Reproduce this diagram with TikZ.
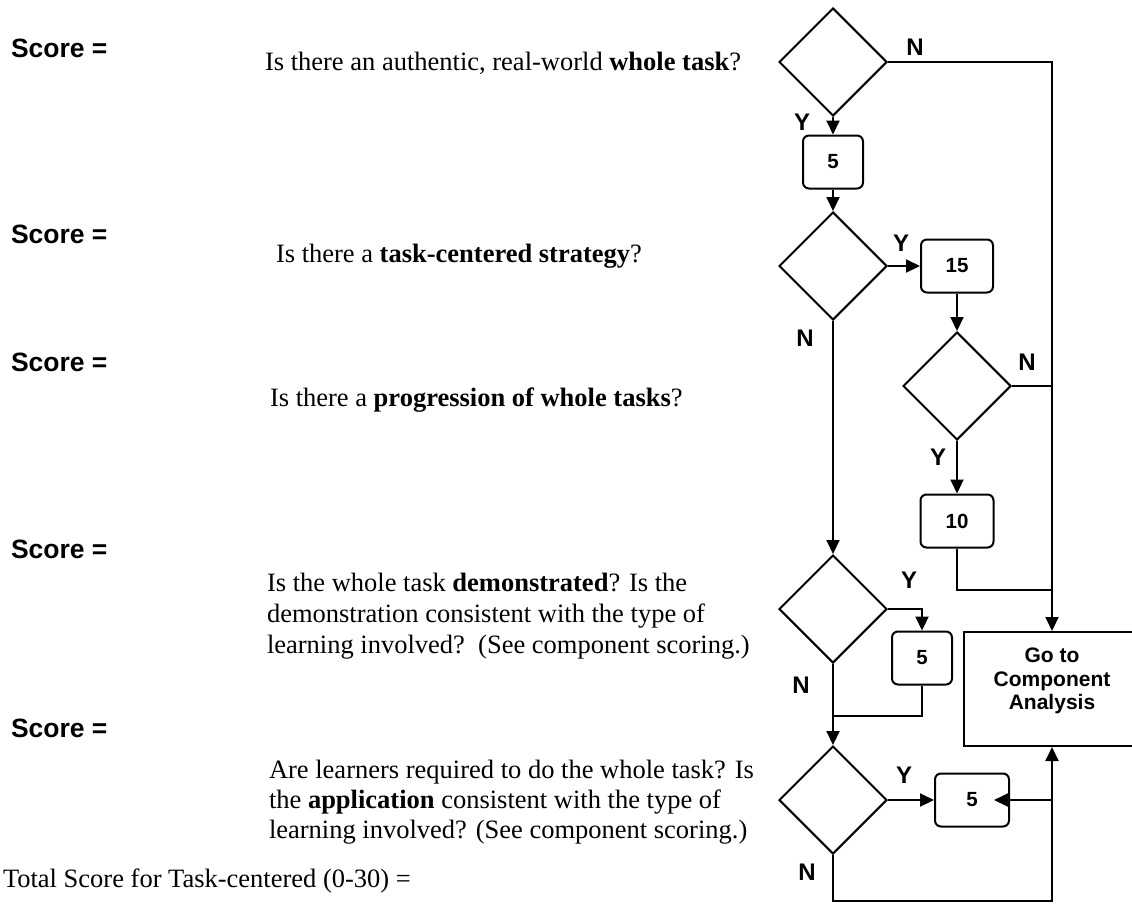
\documentclass[tikz,border=0pt]{standalone}
\usepackage{fontspec}
\setmainfont{Liberation Serif}
\newfontfamily\arialfont{Liberation Sans}
\usetikzlibrary{shapes.geometric,arrows.meta}
\begin{document}
\begin{tikzpicture}[x=1pt,y=-1pt,
  line width=2pt,
  decision/.style={draw,shape=diamond,minimum width=108pt,minimum height=108pt,inner sep=0pt},
  scorebox/.style={draw,rounded corners=6pt,minimum height=53pt,inner sep=0pt,
    font=\arialfont\bfseries\fontsize{20.5}{24}\selectfont},
  yn/.style={inner sep=0pt,font=\arialfont\bfseries\fontsize{24}{28}\selectfont},
  scorelbl/.style={anchor=base west,inner sep=0pt,font=\arialfont\bfseries\fontsize{26.5}{30}\selectfont},
  question/.style={anchor=base west,inner sep=0pt,font=\fontsize{26.5}{31}\selectfont},
  arr/.style={-{Triangle[length=14pt,width=13pt]}}
]
\useasboundingbox (0,0) rectangle (1132,903);

% score labels
\node[scorelbl] (s1) at (10,57)  {Score =};
\node[scorelbl] (s2) at (10,243) {Score =};
\node[scorelbl] (s3) at (10,371) {Score =};
\node[scorelbl] (s4) at (10,558) {Score =};
\node[scorelbl] (s5) at (10,737) {Score =};

% questions
\node[question] (q1) at (264,70)  {Is there an authentic, real-world \textbf{whole task}?};
\node[question] (q2) at (275,262) {Is there a \textbf{task-centered strategy}?};
\node[question] (q3) at (269,406) {Is there a \textbf{progression of whole tasks}?};
\node[question] (q4a) at (266,591) {Is the whole task \textbf{demonstrated}? Is the};
\node[question] (q4b) at (266,622) {demonstration consistent with the type of};
\node[question] (q4c) at (266,653) {learning involved?\ \ (See component scoring.)};
\node[question] (q5a) at (268,778) {Are learners required to do the whole task? Is};
\node[question] (q5b) at (268,808) {the \textbf{application} consistent with the type of};
\node[question] (q5c) at (268,838) {learning involved? (See component scoring.)};
\node[question] (tot) at (2,887) {Total Score for Task-centered (0-30) =};

% flowchart nodes
\node[decision] (d1) at (833,62) {};
\node[scorebox,minimum width=60pt] (b1) at (833,162) {5};
\node[decision] (d2) at (833,266) {};
\node[scorebox,minimum width=72pt] (b2) at (957,266) {15};
\node[decision] (d3) at (957,386) {};
\node[scorebox,minimum width=73pt] (b3) at (957,521) {10};
\node[decision] (d4) at (833,609) {};
\node[scorebox,minimum width=60pt] (b4) at (922,658) {5};
\node[decision] (d5) at (833,800) {};
\node[scorebox,minimum width=74pt] (b5) at (972,800) {5};
\node[draw,minimum width=176pt,minimum height=114pt,inner sep=0pt] (go) at (1052,689) {};
\node[align=center,inner sep=0pt,font=\arialfont\bfseries\fontsize{21}{23.3}\selectfont]
  (gotext) at (1052,681) {Go to\\Component\\Analysis};

% junction points
\coordinate (j3) at (1052,590);
\coordinate (j4) at (833,716);
\coordinate (j5) at (1052,901);
\coordinate (j6) at (1052,800);

% connectors
\draw[arr] (d1.east) -| (go.north);
\draw[arr] (d1.south) -- (b1.north);
\draw[arr] (b1.south) -- (d2.north);
\draw[arr] (d2.east) -- (b2.west);
\draw[arr] (b2.south) -- (d3.north);
\draw (d3.east) -- (d3.east -| go.north);
\draw[arr] (d3.south) -- (b3.north);
\draw (b3.south) |- (j3);
\draw[arr] (d2.south) -- (d4.north);
\draw[arr] (d4.east) -| (b4.north);
\draw (b4.south) |- (j4);
\draw[arr] (d4.south) -- (d5.north);
\draw[arr] (d5.east) -- (b5.west);
\draw[arr] (j6) -- ([xshift=-16pt]b5.east);
\draw[arr] (d5.south) |- (j5) -- (go.south);

% branch labels
\node[yn] (n1) at (915,47)  {N};
\node[yn] (y1) at (802,122) {Y};
\node[yn] (y2) at (901,243) {Y};
\node[yn] (n2) at (805,338) {N};
\node[yn] (n3) at (1027,362) {N};
\node[yn] (y3) at (938,457) {Y};
\node[yn] (y4) at (909,580) {Y};
\node[yn] (n4) at (801,685) {N};
\node[yn] (y5) at (904,775) {Y};
\node[yn] (n5) at (807,872) {N};
\end{tikzpicture}
\end{document}
